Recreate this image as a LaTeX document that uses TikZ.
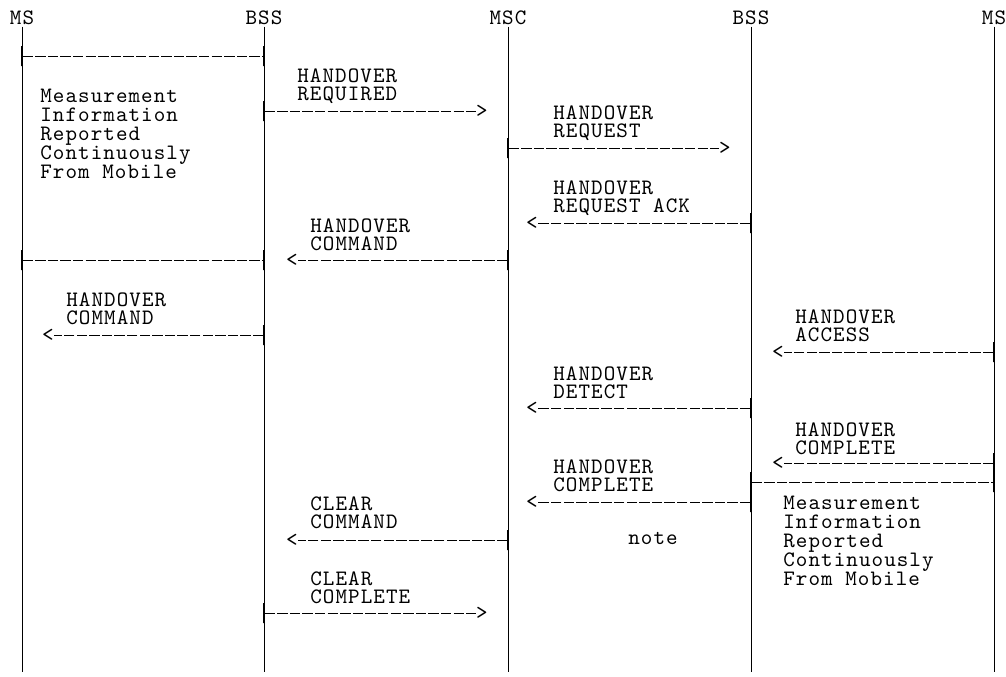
\documentclass[tikz,border=0pt]{standalone}
\usepackage{fontspec}
\usetikzlibrary{positioning}
\newfontfamily\msgtt[LetterSpace=4.8]{Latin Modern Mono}
\newcommand\msgfont{\msgtt\fontsize{11}{9.4}\selectfont\lineskiplimit=-20pt\relax}

\begin{document}
\begin{tikzpicture}[
  x=0.5pt, y=-0.5pt,
  mono/.style={font=\msgfont},
  head/.style={mono,anchor=base,inner sep=1pt},
  life/.style={line width=0.5pt},
  msg/.style={line width=0.5pt,dash pattern=on 5.2pt off 1.1pt},
  stub/.style={draw,line width=0.6pt,minimum width=0pt,minimum height=10pt,inner sep=0pt},
  arrowch/.style={mono,inner sep=0pt},
  lab/.style={mono,align=left,anchor=north west,inner sep=0pt}
]
  \useasboundingbox (0,0) rectangle (1006,676);

  % lifelines
  \node[head] (ms1) at (22,24) {MS};
  \node[head] (bss1) at (264,24) {BSS};
  \node[head] (msc) at (508,24) {MSC};
  \node[head] (bss2) at (751,24) {BSS};
  \node[head] (ms2) at (994,24) {MS};
  \coordinate (ms1end) at (22,672);
  \coordinate (bss1end) at (264,672);
  \coordinate (mscend) at (508,672);
  \coordinate (bss2end) at (751,672);
  \coordinate (ms2end) at (994,672);
  \draw[life] (ms1) -- (ms1end);
  \draw[life] (bss1) -- (bss1end);
  \draw[life] (msc) -- (mscend);
  \draw[life] (bss2) -- (bss2end);
  \draw[life] (ms2) -- (ms2end);

  % measurement reports, old cell
  \node[stub] (meas1a) at (22,56) {};
  \node[stub] (meas1b) at (264,56) {};
  \draw[msg] (meas1a) -- (meas1b);
  \node[lab] (meas1) at (40,89) {Measurement\\Information\\Reported\\Continuously\\From Mobile};
  \node[stub] (meas1c) at (22,260) {};
  \node[stub] (meas1d) at (264,260) {};
  \draw[msg] (meas1c) -- (meas1d);

  % handover required
  \node[lab] (reqdlab) at (297,68) {HANDOVER\\REQUIRED};
  \node[stub] (reqd1) at (264,111) {};
  \node[arrowch] (reqd2) at (482,111) {>};
  \draw[msg] (reqd1) -- (reqd2);

  % handover request
  \node[lab] (reqlab) at (553,105) {HANDOVER\\REQUEST};
  \node[stub] (req1) at (508,148) {};
  \node[arrowch] (req2) at (725,148) {>};
  \draw[msg] (req1) -- (req2);

  % handover request ack
  \node[lab] (acklab) at (553,180) {HANDOVER\\REQUEST ACK};
  \node[stub] (ack1) at (751,223) {};
  \node[arrowch] (ack2) at (532,223) {<};
  \draw[msg] (ack1) -- (ack2);

  % handover command, MSC to BSS
  \node[lab] (cmdlab) at (310,218) {HANDOVER\\COMMAND};
  \node[stub] (cmd1) at (508,260) {};
  \node[arrowch] (cmd2) at (292,260) {<};
  \draw[msg] (cmd1) -- (cmd2);

  % handover command, BSS to MS
  \node[lab] (mscmdlab) at (66,292) {HANDOVER\\COMMAND};
  \node[stub] (mscmd1) at (264,335) {};
  \node[arrowch] (mscmd2) at (48,335) {<};
  \draw[msg] (mscmd1) -- (mscmd2);

  % handover access
  \node[lab] (acclab) at (795,309) {HANDOVER\\ACCESS};
  \node[stub] (acc1) at (994,352) {};
  \node[arrowch] (acc2) at (778,352) {<};
  \draw[msg] (acc1) -- (acc2);

  % handover detect
  \node[lab] (detlab) at (553,366) {HANDOVER\\DETECT};
  \node[stub] (det1) at (751,408) {};
  \node[arrowch] (det2) at (532,408) {<};
  \draw[msg] (det1) -- (det2);

  % handover complete, MS to BSS
  \node[lab] (mscpllab) at (795,422) {HANDOVER\\COMPLETE};
  \node[stub] (mscpl1) at (994,463) {};
  \node[arrowch] (mscpl2) at (778,463) {<};
  \draw[msg] (mscpl1) -- (mscpl2);

  % measurement reports, new cell
  \node[stub] (meas2a) at (751,482) {};
  \node[stub] (meas2b) at (994,482) {};
  \draw[msg] (meas2a) -- (meas2b);
  \node[lab] (meas2) at (783,496) {Measurement\\Information\\Reported\\Continuously\\From Mobile};

  % handover complete, BSS to MSC
  \node[lab] (cpllab) at (553,459) {HANDOVER\\COMPLETE};
  \node[stub] (cpl1) at (751,502) {};
  \node[arrowch] (cpl2) at (532,502) {<};
  \draw[msg] (cpl1) -- (cpl2);

  \node[mono,anchor=base] (note) at (653,544) {note};

  % clear command
  \node[lab] (clrlab) at (310,496) {CLEAR\\COMMAND};
  \node[stub] (clr1) at (508,540) {};
  \node[arrowch] (clr2) at (292,540) {<};
  \draw[msg] (clr1) -- (clr2);

  % clear complete
  \node[lab] (clrcpllab) at (310,571) {CLEAR\\COMPLETE};
  \node[stub] (clrcpl1) at (264,613) {};
  \node[arrowch] (clrcpl2) at (482,613) {>};
  \draw[msg] (clrcpl1) -- (clrcpl2);
\end{tikzpicture}
\end{document}
